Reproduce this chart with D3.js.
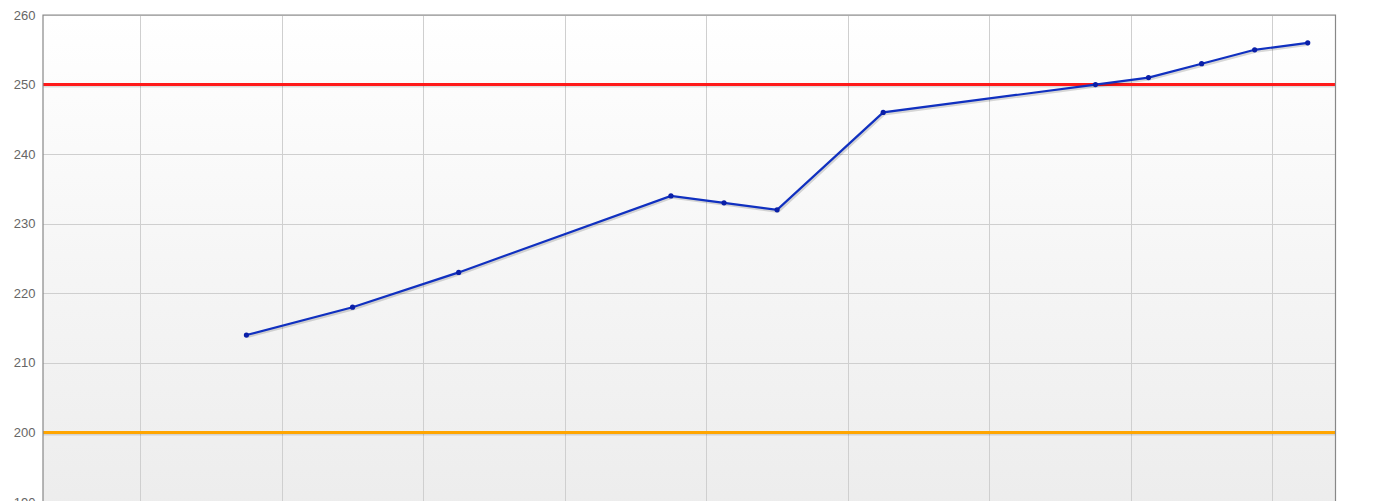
<!DOCTYPE html>
<html>
<head>
<meta charset="utf-8">
<script src="https://cdn.jsdelivr.net/npm/d3@7"></script>
<style>
  body { margin: 0; background: #fff; }
  svg { display: block; }
</style>
</head>
<body>
<svg id="chart" width="1386" height="501"></svg>
<script>
// data (x in months from first point)
const xValues = [0, 6, 12, 24, 27, 30, 36, 48, 51, 54, 57, 60];
const yValues = [214, 218, 223, 234, 233, 232, 246, 250, 251, 253, 255, 256];
const yTicks = [190, 200, 210, 220, 230, 240, 250, 260];
const xGridTicks = [-6, 2, 10, 18, 26, 34, 42, 50, 58];
const refLines = [250, 200];
const refColors = ["#ff1a1a", "#ffa500"];

const svg = d3.select("#chart");
const plotLeft = 43, plotRight = 1335.5, plotTop = 15, plotBottom = 502;

const x = d3.scaleLinear().domain([-11.5, 61.57]).range([plotLeft, plotRight]);
const y = d3.scaleLinear().domain([190, 260]).range([plotBottom, plotTop]);

const defs = svg.append("defs");
const grad = defs.append("linearGradient")
    .attr("id", "bg").attr("x1", 0).attr("y1", 0).attr("x2", 0).attr("y2", 1);
grad.append("stop").attr("offset", "0%").attr("stop-color", "#ffffff");
grad.append("stop").attr("offset", "100%").attr("stop-color", "#ececec");

// plot background
svg.append("rect")
    .attr("x", plotLeft).attr("y", plotTop)
    .attr("width", plotRight - plotLeft).attr("height", plotBottom + 20 - plotTop)
    .attr("fill", "url(#bg)");

// horizontal grid
svg.append("g").selectAll("line")
  .data(yTicks)
  .enter().append("line")
    .attr("x1", plotLeft).attr("x2", plotRight)
    .attr("y1", d => Math.round(y(d)) + 0.5)
    .attr("y2", d => Math.round(y(d)) + 0.5)
    .style("stroke", "#cfcfcf")
    .style("stroke-width", 1);

// vertical grid
svg.append("g").selectAll("line")
  .data(xGridTicks)
  .enter().append("line")
    .attr("x1", d => Math.round(x(d)) + 0.5)
    .attr("x2", d => Math.round(x(d)) + 0.5)
    .attr("y1", plotTop).attr("y2", 501)
    .style("stroke", "#cfcfcf")
    .style("stroke-width", 1);

// y labels
svg.append("g").selectAll("text")
  .data(yTicks)
  .enter().append("text")
    .attr("x", 35.5)
    .attr("y", d => y(d) + 4.5)
    .attr("text-anchor", "end")
    .style("font-family", "Arial, 'Liberation Sans', sans-serif")
    .style("font-size", "13px")
    .style("fill", "#666")
    .text(d => d);

// reference lines with shadow
refLines.forEach((v, i) => {
  svg.append("line")
    .attr("x1", plotLeft).attr("x2", plotRight)
    .attr("y1", y(v) + 1.5).attr("y2", y(v) + 1.5)
    .style("stroke", "#000").style("stroke-opacity", 0.12)
    .style("stroke-width", 3);
  svg.append("line")
    .attr("x1", plotLeft).attr("x2", plotRight)
    .attr("y1", y(v)).attr("y2", y(v))
    .style("stroke", refColors[i])
    .style("stroke-width", 3);
});

const pts = xValues.map((d, i) => [d, yValues[i]]);
const line = d3.line().x(d => x(d[0])).y(d => y(d[1]));

// line shadow
svg.append("path")
    .attr("d", line(pts))
    .attr("transform", "translate(1,1.5)")
    .attr("fill", "none")
    .style("stroke", "#000").style("stroke-opacity", 0.15)
    .style("stroke-width", 3);

svg.append("path")
    .attr("d", line(pts))
    .attr("fill", "none")
    .style("stroke", "#1030c0")
    .style("stroke-width", 2.2);

svg.append("g").selectAll("circle")
  .data(pts)
  .enter().append("circle")
    .attr("cx", d => x(d[0]))
    .attr("cy", d => y(d[1]))
    .attr("r", 2.6)
    .style("fill", "#0a1fa8");

// plot border
svg.append("path")
    .attr("d", `M${plotLeft},501V${plotTop}H${plotRight}V501`)
    .attr("fill", "none")
    .style("stroke", "#888")
    .style("stroke-width", 1.2);
</script>
</body>
</html>
